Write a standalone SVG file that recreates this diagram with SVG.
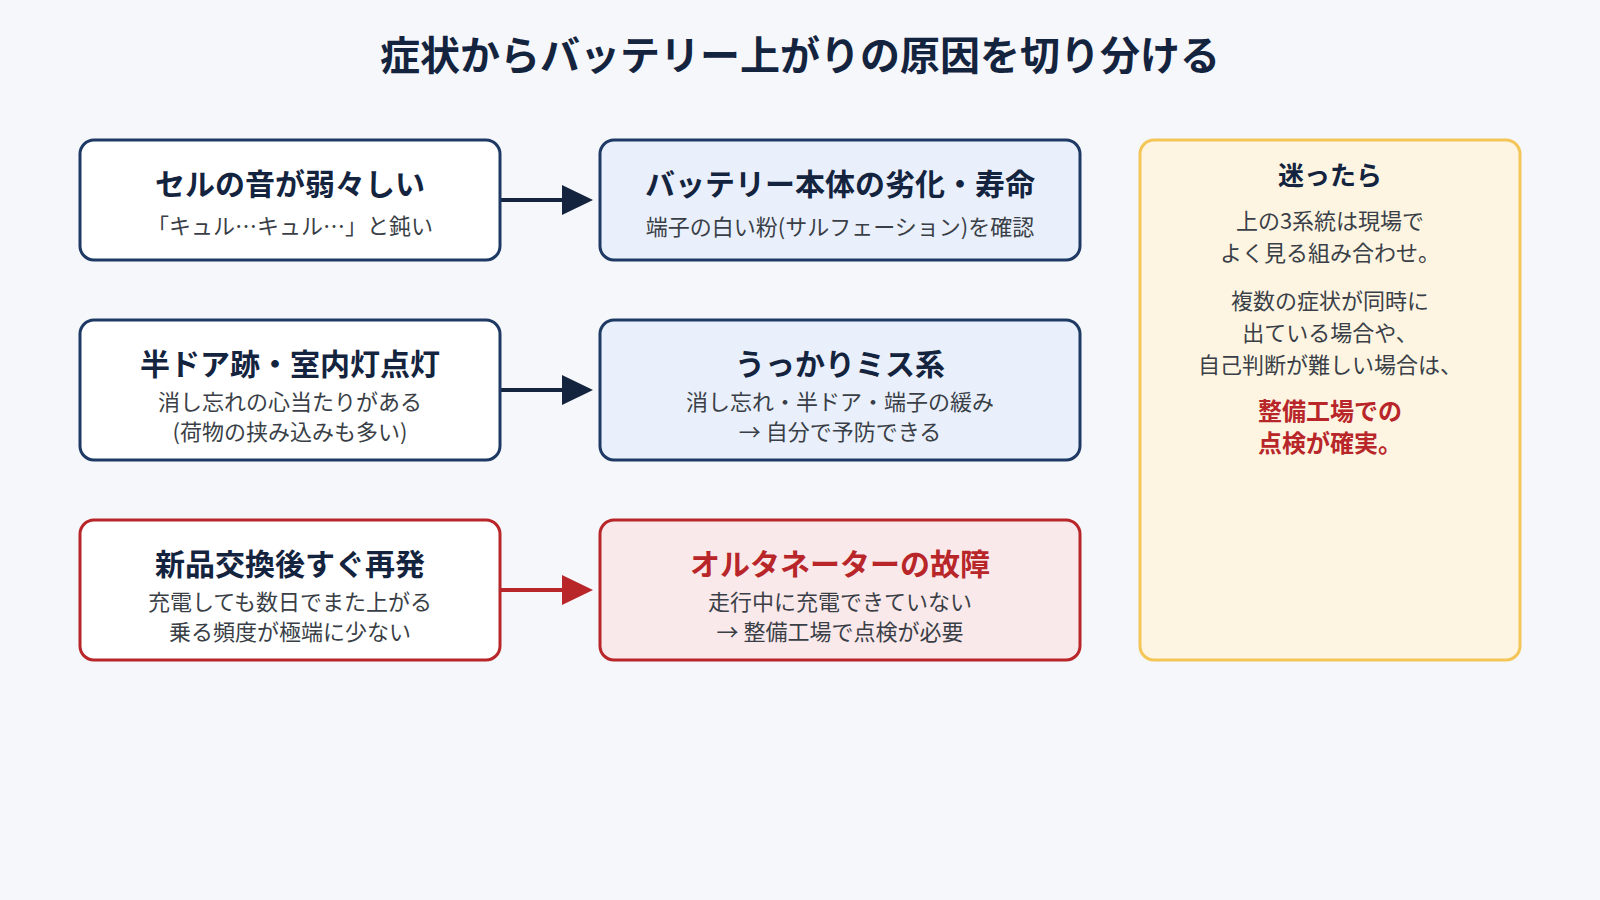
<svg xmlns="http://www.w3.org/2000/svg" width="1600" height="900" viewBox="0 0 1600 900">
<style>
text{font-family:"Noto Sans CJK JP","Noto Sans",sans-serif;text-anchor:middle}
.t{font-size:30px;font-weight:700;fill:#14243f}
.s{font-size:22px;fill:#3a3f47}
.nb{fill:#fff;stroke:#1e3a64;stroke-width:3}
.bb{fill:#e9f0fb;stroke:#1e3a64;stroke-width:3}
.nr{fill:#fff;stroke:#b8262a;stroke-width:3}
.rb{fill:#fae9ea;stroke:#b8262a;stroke-width:3}
.y{fill:#fdf5e2;stroke:#f4c557;stroke-width:3}
.r{fill:#b8262a}
</style>
<rect width="1600" height="900" fill="#f5f7fa"/>
<text x="800" y="70" font-size="40" font-weight="700" fill="#14243f">症状からバッテリー上がりの原因を切り分ける</text>
<g id="connectors">
<line x1="501" y1="200" x2="570" y2="200" stroke="#14243f" stroke-width="4"/><path d="M562,185L593,200L562,215z" fill="#14243f"/>
<line x1="501" y1="390" x2="570" y2="390" stroke="#14243f" stroke-width="4"/><path d="M562,375L593,390L562,405z" fill="#14243f"/>
<line x1="501" y1="590" x2="570" y2="590" stroke="#b8262a" stroke-width="4"/><path d="M562,575L593,590L562,605z" fill="#b8262a"/>
</g>
<g id="n1"><rect class="nb" x="80" y="140" width="420" height="120" rx="14"/><text class="t" x="290" y="195">セルの音が弱々しい</text><text class="s" x="290" y="234">「キュル…キュル…」と鈍い</text></g>
<g id="n2"><rect class="bb" x="600" y="140" width="480" height="120" rx="14"/><text class="t" x="840" y="195">バッテリー本体の劣化・寿命</text><text class="s" x="840" y="235">端子の白い粉(サルフェーション)を確認</text></g>
<g id="n3"><rect class="nb" x="80" y="320" width="420" height="140" rx="14"/><text class="t" x="290" y="375">半ドア跡・室内灯点灯</text><text class="s" x="290" y="410">消し忘れの心当たりがある</text><text class="s" x="290" y="440">(荷物の挟み込みも多い)</text></g>
<g id="n4"><rect class="bb" x="600" y="320" width="480" height="140" rx="14"/><text class="t" x="840" y="375">うっかりミス系</text><text class="s" x="840" y="410">消し忘れ・半ドア・端子の緩み</text><text class="s" x="840" y="440">→ 自分で予防できる</text></g>
<g id="n5"><rect class="nr" x="80" y="520" width="420" height="140" rx="14"/><text class="t" x="290" y="575">新品交換後すぐ再発</text><text class="s" x="290" y="610">充電しても数日でまた上がる</text><text class="s" x="290" y="640">乗る頻度が極端に少ない</text></g>
<g id="n6"><rect class="rb" x="600" y="520" width="480" height="140" rx="14"/><text class="t r" x="840" y="575">オルタネーターの故障</text><text class="s" x="840" y="610">走行中に充電できていない</text><text class="s" x="840" y="640">→ 整備工場で点検が必要</text></g>
<g id="side"><rect class="y" x="1140" y="140" width="380" height="520" rx="14"/>
<text x="1330" y="185" font-size="26" font-weight="700" fill="#14243f">迷ったら</text>
<text class="s" x="1330" y="229">上の3系統は現場で</text><text class="s" x="1330" y="261">よく見る組み合わせ。</text>
<text class="s" x="1330" y="309">複数の症状が同時に</text><text class="s" x="1330" y="341">出ている場合や、</text><text class="s" x="1330" y="373">自己判断が難しい場合は、</text>
<text class="r" x="1330" y="420" font-size="24" font-weight="700">整備工場での</text><text class="r" x="1330" y="452" font-size="24" font-weight="700">点検が確実。</text></g>
</svg>
